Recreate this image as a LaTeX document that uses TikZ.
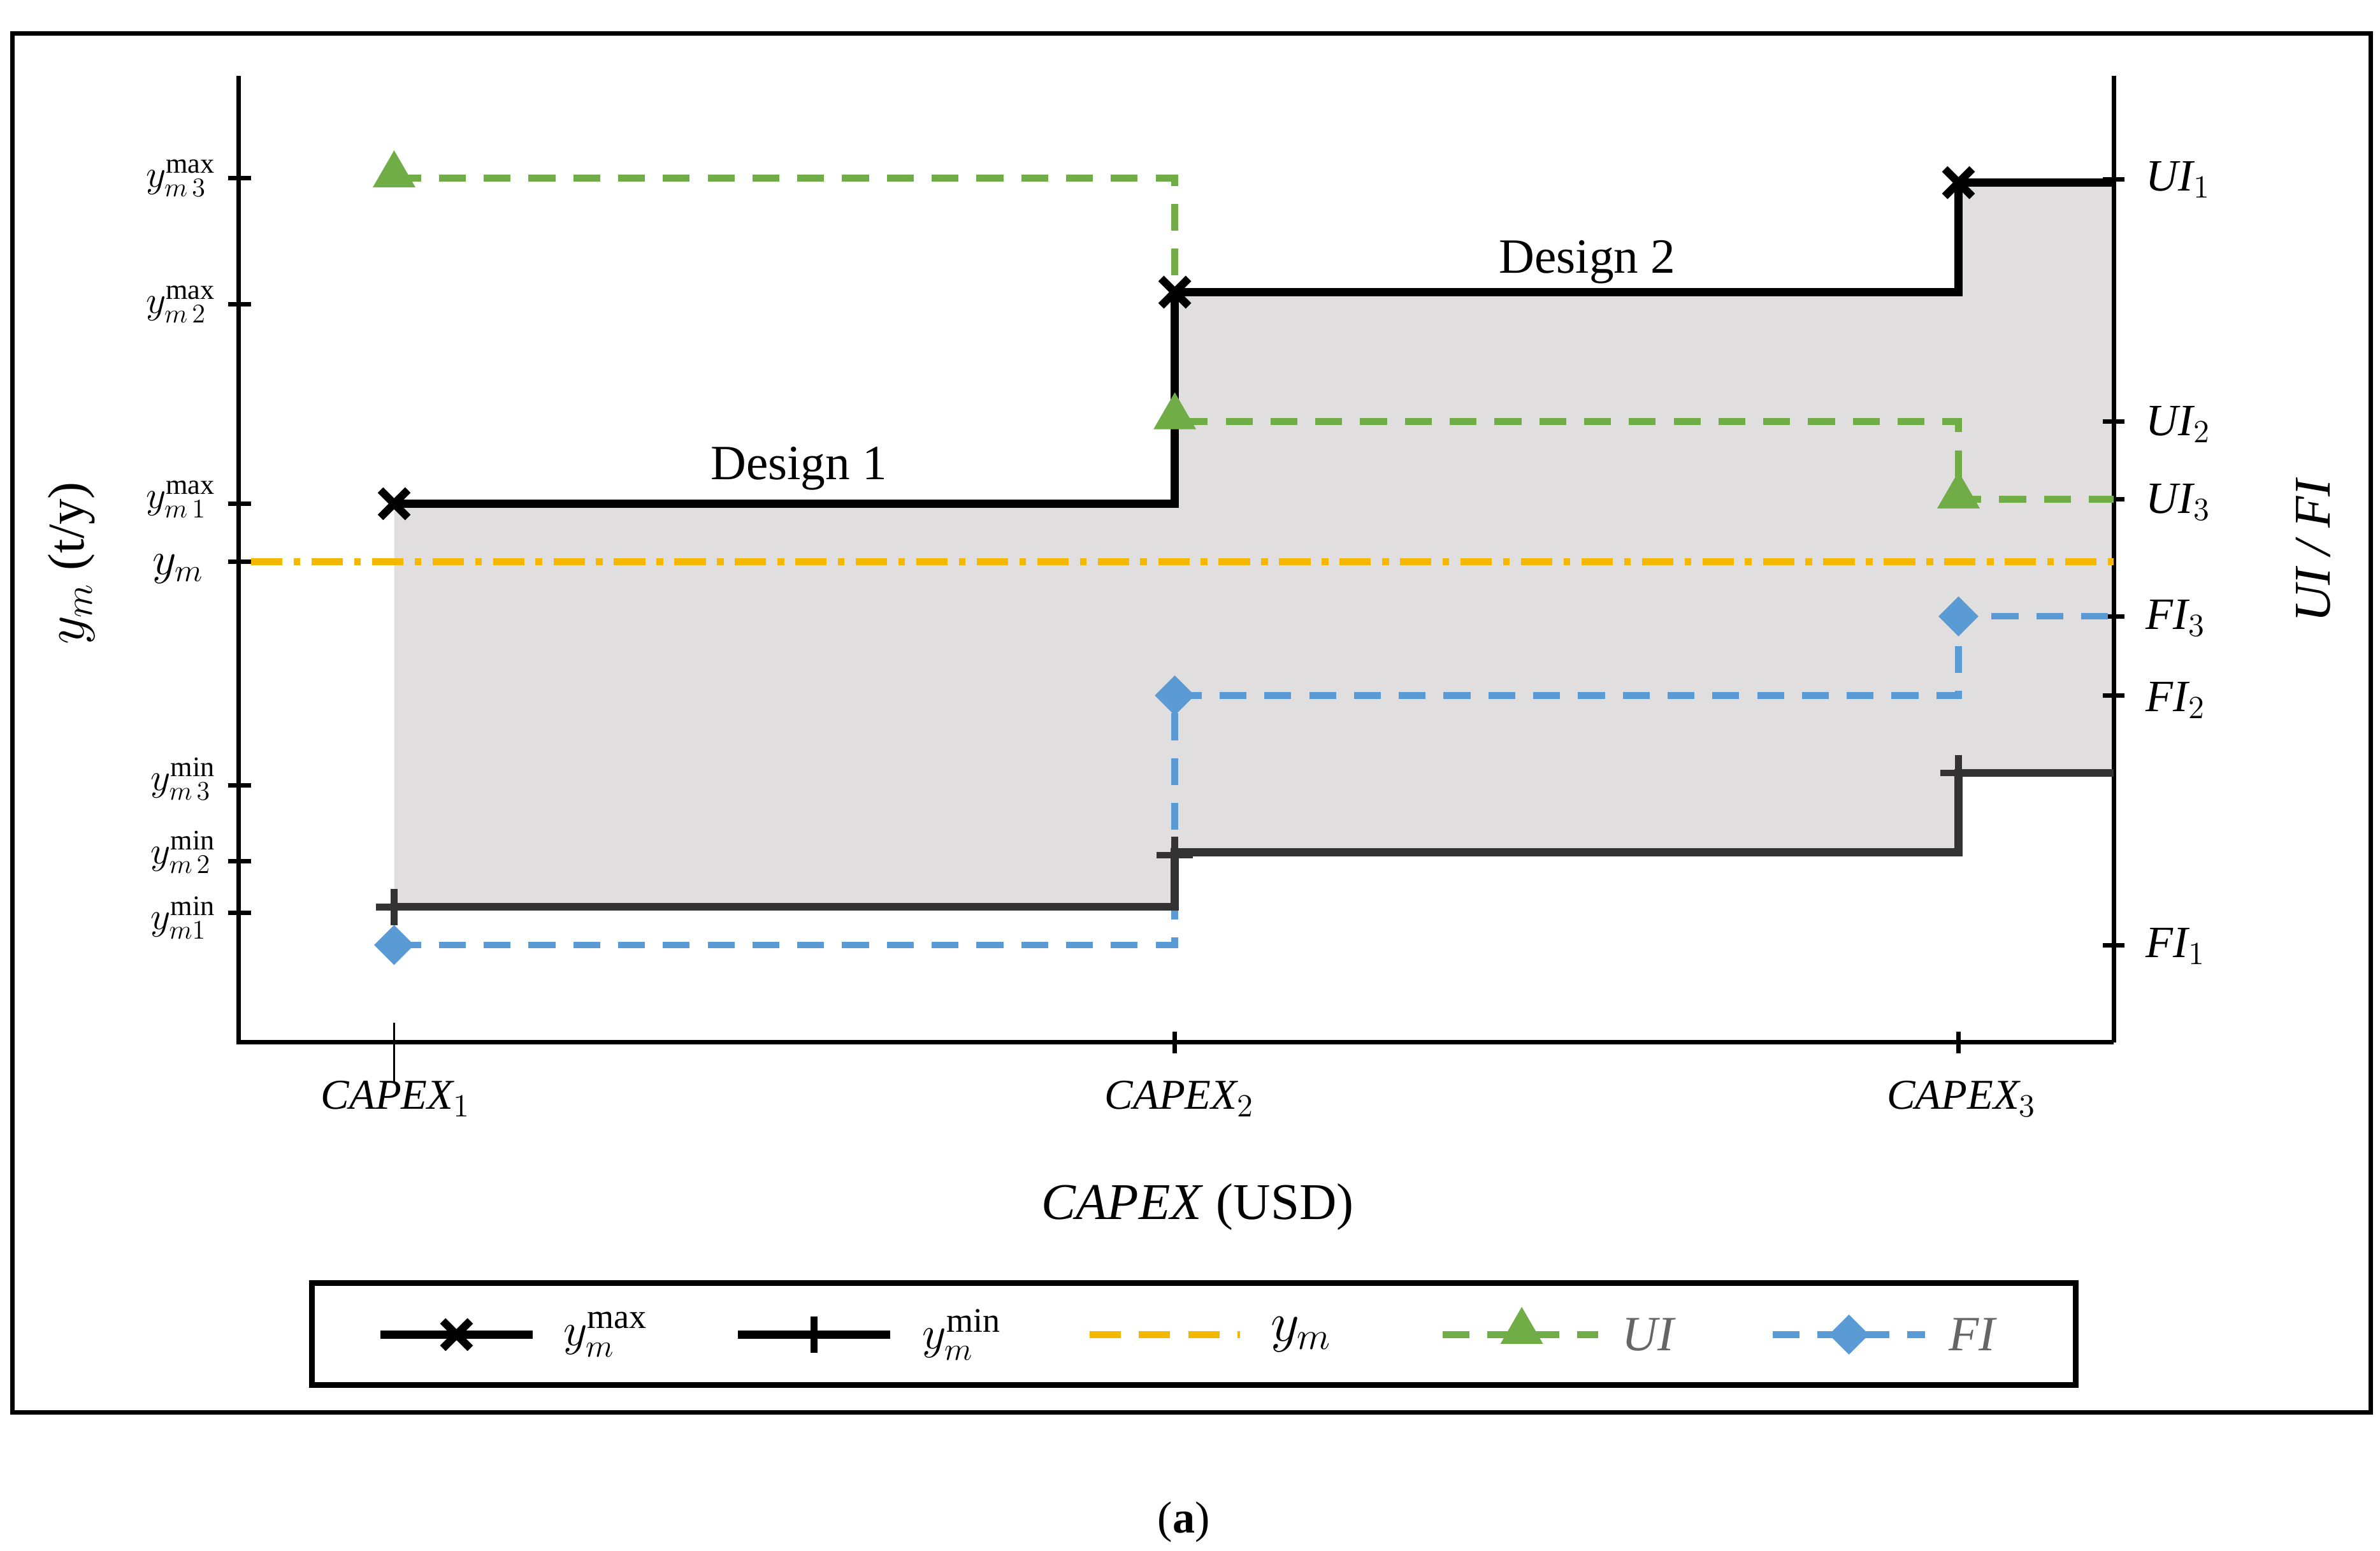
\documentclass[tikz,border=0pt]{standalone}
\usepackage{fontspec}
\setmainfont{Liberation Serif}
\usetikzlibrary{shapes.geometric,calc}
\definecolor{gfill}{HTML}{E0DEDF}
\definecolor{ora}{HTML}{F5B800}
\definecolor{grn}{HTML}{70AD47}
\definecolor{blu}{HTML}{5B9BD5}
\tikzset{
 mx/.style={line width=3.5pt,black},
 mn/.style={line width=3.5pt,black!80},
 ui/.style={line width=3pt,grn,dash pattern=on 12pt off 8pt},
 fi/.style={line width=3pt,blu,dash pattern=on 12pt off 8pt},
 ym/.style={line width=3pt,ora,dash pattern=on 14pt off 5pt on 3pt off 5pt},
 ax/.style={line width=2pt,black},
 lab/.style={font=\fontsize{20}{24}\selectfont,inner sep=0pt},
 tri/.style={regular polygon,regular polygon sides=3,fill=grn,minimum size=22pt,inner sep=0pt},
 dia/.style={diamond,fill=blu,minimum size=18pt,inner sep=0pt},
}
\newcommand{\xmark}[1]{\draw[line width=3.5pt] ($(#1)+(-9,-9)$)--($(#1)+(9,9)$) ($(#1)+(-9,9)$)--($(#1)+(9,-9)$);}
\begin{document}
\begin{tikzpicture}[x=0.02388cm,y=-0.02388cm]
\useasboundingbox[fill=white] (0,0) rectangle (1564,1019);
\draw[line width=2pt] (8,22) rectangle (1558,928);
\fill[gfill] (259,331)--(772,331)--(772,192)--(1287,192)--(1287,120)--(1389,120)--(1389,508)--(1287,508)--(1287,560)--(772,560)--(772,596)--(259,596)--cycle;
\draw[ax] (157,50)--(157,685)--(1389,685);
\draw[ax] (1389,50)--(1389,685);
\foreach \y in {117,200,331,369,516,566,600} \draw[ax] (150,\y)--(165,\y);
\foreach \y in {118,277,328,405,457,621} \draw[ax] (1382,\y)--(1396,\y);
\draw[line width=1pt] (259,672)--(259,712);
\foreach \x in {772,1287} \draw[ax] (\x,678)--(\x,692);
\draw[ym] (165,369)--(1389,369);
\draw[ui] (259,117)--(772,117)--(772,277)--(1287,277)--(1287,328)--(1389,328);
\draw[fi] (259,621)--(772,621)--(772,457)--(1287,457)--(1287,405)--(1389,405);
\draw[mx] (259,331)--(772,331)--(772,192)--(1287,192)--(1287,120)--(1389,120);
\draw[mn] (259,596)--(772,596)--(772,560)--(1287,560)--(1287,508)--(1389,508);
\coordinate (a1) at (259,331); \coordinate (a2) at (772,192); \coordinate (a3) at (1287,120);
\xmark{a1}\xmark{a2}\xmark{a3}
\foreach \p in {(259,596),(772,562),(1287,508)} {\draw[line width=3pt,black!80] \p ++(-12,0)--++(24,0) \p ++(0,-12)--++(0,24);}
\node[tri] (t1) at (259,115) {}; \node[tri] (t2) at (772,274) {}; \node[tri] (t3) at (1287,326) {};
\node[dia] (d1) at (259,621) {}; \node[dia] (d2) at (772,457) {}; \node[dia] (d3) at (1287,405) {};
\node[font=\fontsize{22}{26}\selectfont] (D1) at (525,308) {Design 1};
\node[font=\fontsize{22}{26}\selectfont] (D2) at (1043,172) {Design 2};
\begin{scope}[every node/.style={font=\fontsize{19}{22}\selectfont\itshape}]
\node (c1) at (260,722) {CAPEX$_1$};
\node (c2) at (775,722) {CAPEX$_2$};
\node (c3) at (1289,722) {CAPEX$_3$};
\end{scope}
\node[font=\fontsize{23}{26}\selectfont] (xt) at (787,793) {\textit{CAPEX} (USD)};
\node[font=\fontsize{23}{26}\selectfont,rotate=90] (yt) at (47,370) {$y_m$ (t/y)};
\node[font=\fontsize{23}{26}\selectfont\itshape,rotate=90] (rt) at (1520,362) {UI / FI};
\begin{scope}[every node/.style={font=\fontsize{18}{20}\selectfont,anchor=east,inner sep=0pt}]
\node (l1) at (142,117) {$y_{m\,3}^{\mathrm{max}}$};
\node (l2) at (142,200) {$y_{m\,2}^{\mathrm{max}}$};
\node (l3) at (142,328) {$y_{m\,1}^{\mathrm{max}}$};
\node[font=\fontsize{20}{22}\selectfont] (l4) at (134,374) {$y_m$};
\node (l5) at (142,512) {$y_{m\,3}^{\mathrm{min}}$};
\node (l6) at (142,560) {$y_{m\,2}^{\mathrm{min}}$};
\node (l7) at (142,603) {$y_{m1}^{\mathrm{min}}$};
\end{scope}
\begin{scope}[every node/.style={font=\fontsize{20}{22}\selectfont\itshape,anchor=west,inner sep=0pt}]
\node (r1) at (1410,118) {UI$_1$};
\node (r2) at (1410,279) {UI$_2$};
\node (r3) at (1410,330) {UI$_3$};
\node (r4) at (1410,406) {FI$_3$};
\node (r5) at (1410,460) {FI$_2$};
\node (r6) at (1410,622) {FI$_1$};
\end{scope}
\draw[line width=2.5pt] (205,843) rectangle (1364,910);
\draw[mx] (250,877)--(350,877); \coordinate (lx) at (300,877); \xmark{lx}
\node[lab,font=\fontsize{22}{24}\selectfont] (L1) at (398,877) {$y_m^{\mathrm{max}}$};
\draw[mx] (485,877)--(585,877); \draw[line width=3pt] (535,865)--(535,889);
\node[lab,font=\fontsize{22}{24}\selectfont] (L2) at (632,877) {$y_m^{\mathrm{min}}$};
\draw[line width=3pt,ora,dash pattern=on 14pt off 8pt] (716,877)--(815,877);
\node[lab,font=\fontsize{24}{26}\selectfont] (L3) at (855,877) {$y_m$};
\draw[ui] (948,877)--(1050,877); \node[tri] (lt) at (1000,875) {};
\node[lab,font=\fontsize{22}{24}\selectfont\itshape,text=black!60] (L4) at (1083,877) {UI};
\draw[fi] (1165,877)--(1265,877); \node[dia] (ld) at (1215,877) {};
\node[lab,font=\fontsize{22}{24}\selectfont\itshape,text=black!60] (L5) at (1296,877) {FI};
\node[font=\fontsize{20}{24}\selectfont] (cap) at (778,1000) {(\textbf{a})};
\end{tikzpicture}
\end{document}
